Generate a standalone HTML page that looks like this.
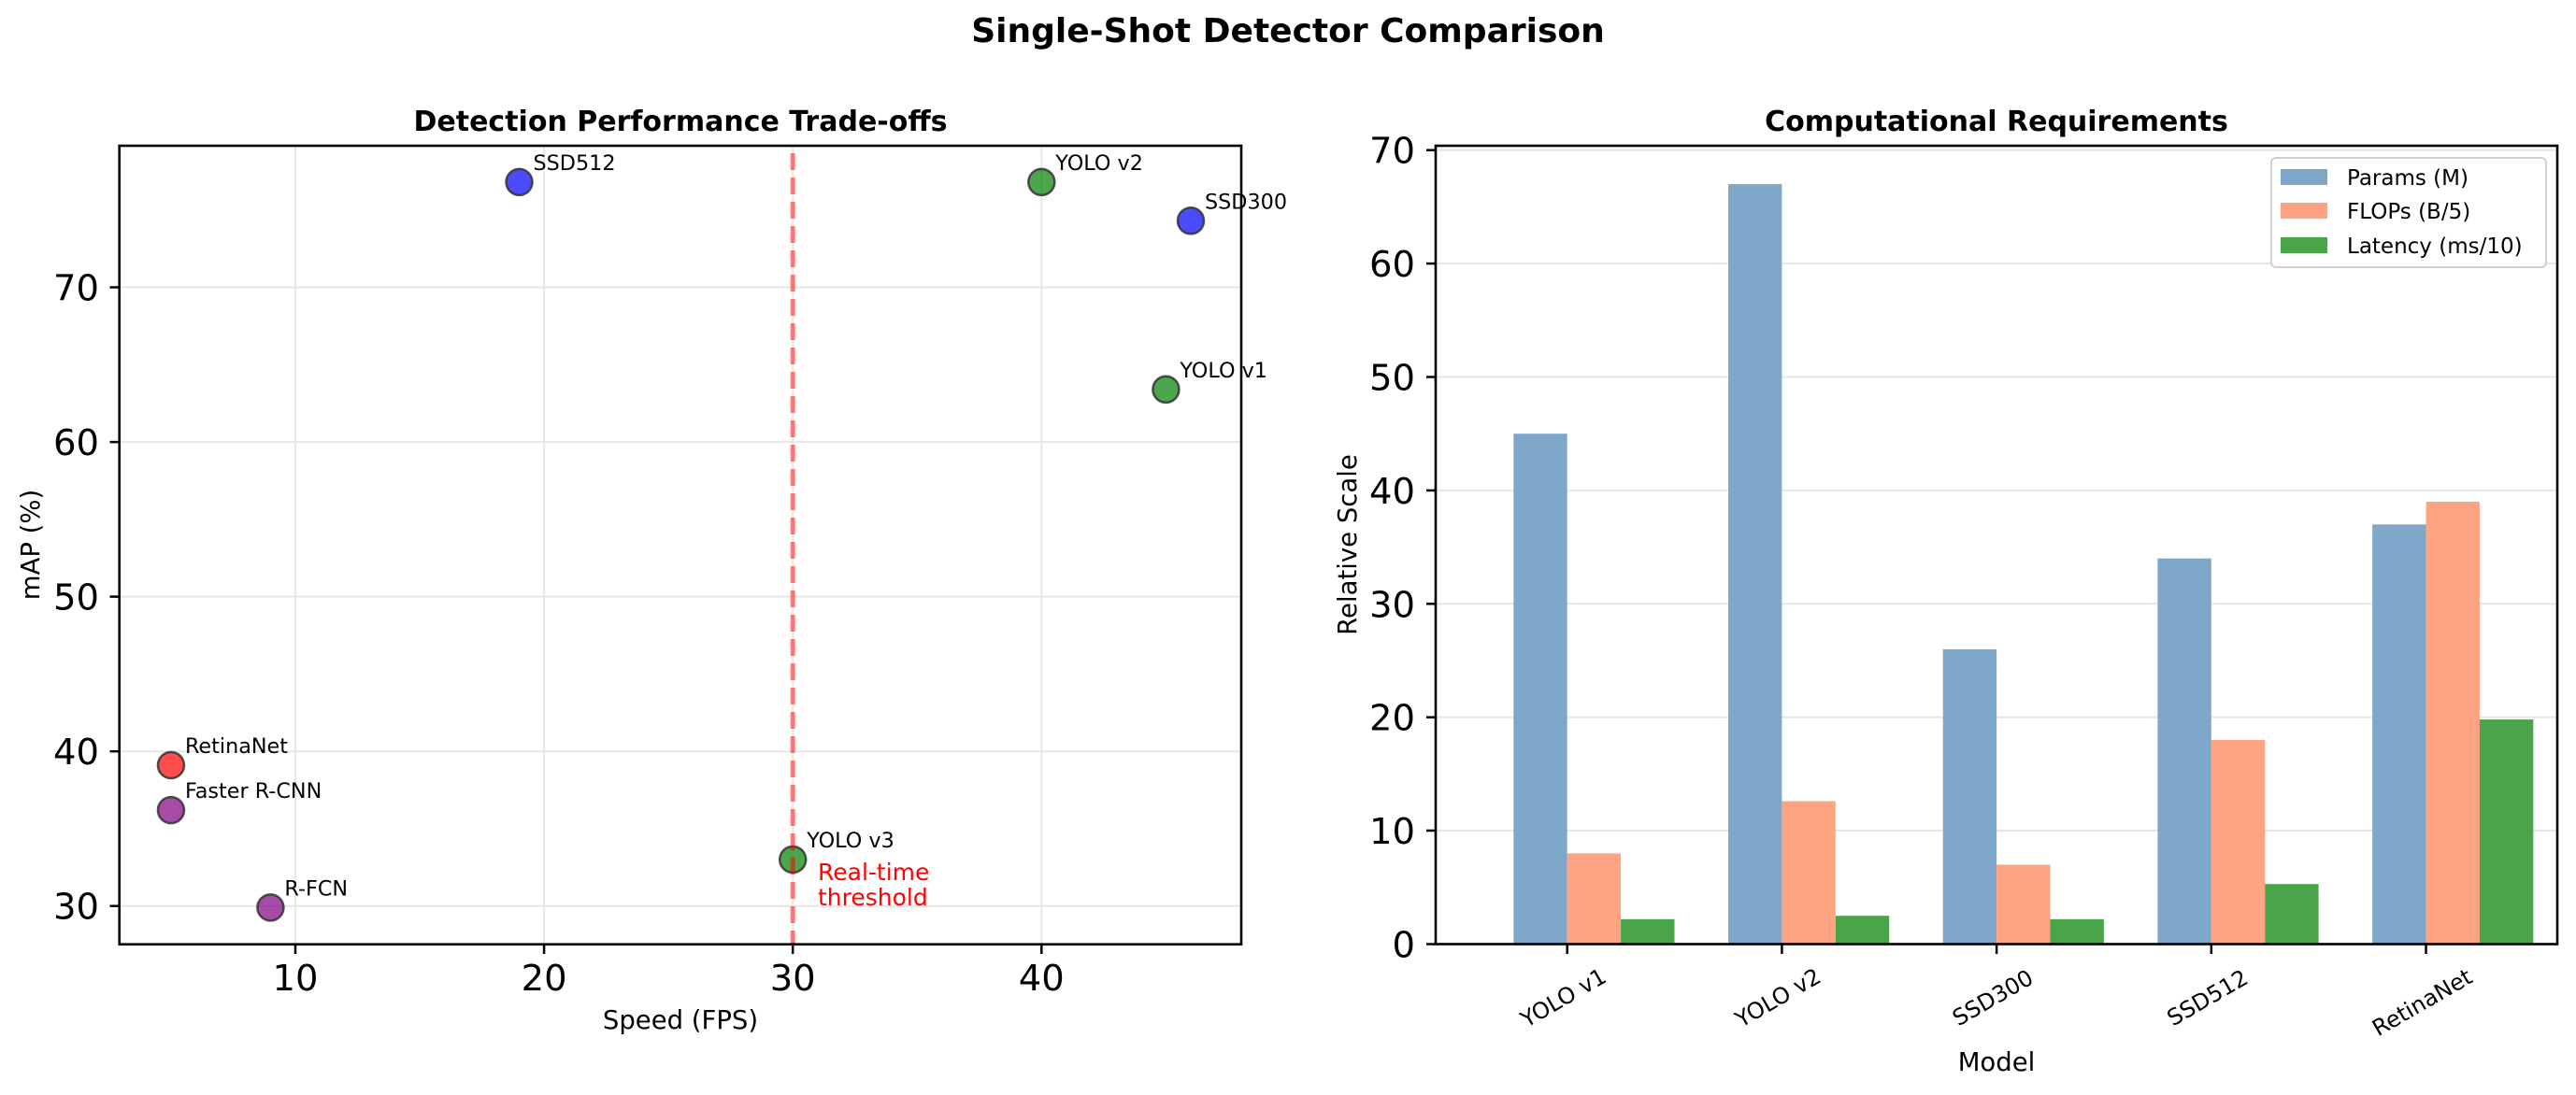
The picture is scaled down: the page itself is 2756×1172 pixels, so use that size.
<!DOCTYPE html>
<html><head><meta charset="utf-8"><style>
html,body{margin:0;padding:0;background:#fff;}
svg{display:block;font-family:"DejaVu Sans","Liberation Sans",sans-serif;}
</style></head><body>
<svg width="2756" height="1172" viewBox="0 0 2756 1172" xmlns="http://www.w3.org/2000/svg">
<rect width="2756" height="1172" fill="#fff"/>
<text x="1378" y="45" font-size="36" font-weight="bold" text-anchor="middle">Single-Shot Detector Comparison</text>

<!-- LEFT PANEL -->
<text x="728" y="140" font-size="30" font-weight="bold" text-anchor="middle">Detection Performance Trade-offs</text>
<g stroke="#e6e6e6" stroke-width="2">
<line x1="316" y1="156" x2="316" y2="1010.7"/>
<line x1="582.1" y1="156" x2="582.1" y2="1010.7"/>
<line x1="848.2" y1="156" x2="848.2" y2="1010.7"/>
<line x1="1114.3" y1="156" x2="1114.3" y2="1010.7"/>
<line x1="127.7" y1="969.7" x2="1328" y2="969.7"/>
<line x1="127.7" y1="804.2" x2="1328" y2="804.2"/>
<line x1="127.7" y1="638.6" x2="1328" y2="638.6"/>
<line x1="127.7" y1="473.1" x2="1328" y2="473.1"/>
<line x1="127.7" y1="307.5" x2="1328" y2="307.5"/>
</g>
<g stroke="#333" stroke-opacity="0.85" stroke-width="2.5">
<circle cx="555.5" cy="194.9" r="14" fill="#0000ff" fill-opacity="0.7"/>
<circle cx="1114.3" cy="194.9" r="14" fill="#008000" fill-opacity="0.7"/>
<circle cx="1274" cy="236.3" r="14" fill="#0000ff" fill-opacity="0.7"/>
<circle cx="1247.4" cy="416.8" r="14" fill="#008000" fill-opacity="0.7"/>
<circle cx="182.95" cy="819" r="14" fill="#ff0000" fill-opacity="0.7"/>
<circle cx="182.95" cy="867.1" r="14" fill="#800080" fill-opacity="0.7"/>
<circle cx="289.4" cy="971.4" r="14" fill="#800080" fill-opacity="0.7"/>
<circle cx="848.2" cy="920" r="14" fill="#008000" fill-opacity="0.7"/>
</g>
<line x1="848.2" y1="164" x2="848.2" y2="1010.7" stroke="#ff0000" stroke-opacity="0.5" stroke-width="5" stroke-dasharray="18,8"/>
<g font-size="22.3">
<text x="570.5" y="182">SSD512</text>
<text x="1129.3" y="182">YOLO v2</text>
<text x="1289" y="223.3">SSD300</text>
<text x="1262.4" y="403.8">YOLO v1</text>
<text x="197.95" y="806">RetinaNet</text>
<text x="197.95" y="854.1">Faster R-CNN</text>
<text x="304.4" y="958.4">R-FCN</text>
<text x="863.2" y="907">YOLO v3</text>
</g>
<text x="875" y="942" font-size="25" fill="#ff0000">Real-time</text>
<text x="875" y="969" font-size="25" fill="#ff0000">threshold</text>
<rect x="127.7" y="156" width="1200.3" height="854.7" fill="none" stroke="#000" stroke-width="2.6"/>
<g stroke="#000" stroke-width="2.5">
<line x1="316" y1="1010.7" x2="316" y2="1021"/>
<line x1="582.1" y1="1010.7" x2="582.1" y2="1021"/>
<line x1="848.2" y1="1010.7" x2="848.2" y2="1021"/>
<line x1="1114.3" y1="1010.7" x2="1114.3" y2="1021"/>
<line x1="117.5" y1="969.7" x2="127.7" y2="969.7"/>
<line x1="117.5" y1="804.2" x2="127.7" y2="804.2"/>
<line x1="117.5" y1="638.6" x2="127.7" y2="638.6"/>
<line x1="117.5" y1="473.1" x2="127.7" y2="473.1"/>
<line x1="117.5" y1="307.5" x2="127.7" y2="307.5"/>
</g>
<g font-size="38.5" text-anchor="middle">
<text x="316" y="1060">10</text>
<text x="582.1" y="1060">20</text>
<text x="848.2" y="1060">30</text>
<text x="1114.3" y="1060">40</text>
</g>
<g font-size="38.5" text-anchor="end">
<text x="106" y="983.7">30</text>
<text x="106" y="818.2">40</text>
<text x="106" y="652.6">50</text>
<text x="106" y="487.1">60</text>
<text x="106" y="321.5">70</text>
</g>
<text x="728" y="1101" font-size="27.5" text-anchor="middle">Speed (FPS)</text>
<text transform="translate(42,583) rotate(-90)" font-size="27.5" text-anchor="middle">mAP (%)</text>

<!-- RIGHT PANEL -->
<text x="2136" y="140" font-size="30" font-weight="bold" text-anchor="middle">Computational Requirements</text>
<g stroke="#e6e6e6" stroke-width="2">
<line x1="1536" y1="889" x2="2736" y2="889"/>
<line x1="1536" y1="767.7" x2="2736" y2="767.7"/>
<line x1="1536" y1="646.3" x2="2736" y2="646.3"/>
<line x1="1536" y1="524.9" x2="2736" y2="524.9"/>
<line x1="1536" y1="403.5" x2="2736" y2="403.5"/>
<line x1="1536" y1="282.1" x2="2736" y2="282.1"/>
<line x1="1536" y1="160.7" x2="2736" y2="160.7"/>
</g>
<g>
<rect x="1619.3" y="464.2" width="57.4" height="546.3" fill="#7ea7c9"/>
<rect x="1676.7" y="913.4" width="57.4" height="97.1" fill="#ffa483"/>
<rect x="1734.1" y="983.8" width="57.4" height="26.7" fill="#4aa54a"/>

<rect x="1849" y="197.1" width="57.4" height="813.4" fill="#7ea7c9"/>
<rect x="1906.4" y="857.5" width="57.4" height="153" fill="#ffa483"/>
<rect x="1963.8" y="980.2" width="57.4" height="30.3" fill="#4aa54a"/>

<rect x="2078.7" y="694.9" width="57.4" height="315.6" fill="#7ea7c9"/>
<rect x="2136.1" y="925.5" width="57.4" height="85" fill="#ffa483"/>
<rect x="2193.5" y="983.8" width="57.4" height="26.7" fill="#4aa54a"/>

<rect x="2308.4" y="597.7" width="57.4" height="412.8" fill="#7ea7c9"/>
<rect x="2365.8" y="792" width="57.4" height="218.5" fill="#ffa483"/>
<rect x="2423.2" y="946.2" width="57.4" height="64.3" fill="#4aa54a"/>

<rect x="2538.1" y="561.3" width="57.4" height="449.2" fill="#7ea7c9"/>
<rect x="2595.5" y="537" width="57.4" height="473.5" fill="#ffa483"/>
<rect x="2652.9" y="770.1" width="57.4" height="240.4" fill="#4aa54a"/>
</g>
<rect x="1536" y="156" width="1200" height="854.5" fill="none" stroke="#000" stroke-width="2.6"/>
<g stroke="#000" stroke-width="2.5">
<line x1="1676.7" y1="1010.5" x2="1676.7" y2="1021"/>
<line x1="1906.4" y1="1010.5" x2="1906.4" y2="1021"/>
<line x1="2136.1" y1="1010.5" x2="2136.1" y2="1021"/>
<line x1="2365.8" y1="1010.5" x2="2365.8" y2="1021"/>
<line x1="2595.5" y1="1010.5" x2="2595.5" y2="1021"/>
<line x1="1526" y1="1010.5" x2="1536" y2="1010.5"/>
<line x1="1526" y1="889" x2="1536" y2="889"/>
<line x1="1526" y1="767.7" x2="1536" y2="767.7"/>
<line x1="1526" y1="646.3" x2="1536" y2="646.3"/>
<line x1="1526" y1="524.9" x2="1536" y2="524.9"/>
<line x1="1526" y1="403.5" x2="1536" y2="403.5"/>
<line x1="1526" y1="282.1" x2="1536" y2="282.1"/>
<line x1="1526" y1="160.7" x2="1536" y2="160.7"/>
</g>
<g font-size="38.5" text-anchor="end">
<text x="1514" y="1024.5">0</text>
<text x="1514" y="903">10</text>
<text x="1514" y="781.7">20</text>
<text x="1514" y="660.3">30</text>
<text x="1514" y="538.9">40</text>
<text x="1514" y="417.5">50</text>
<text x="1514" y="296.1">60</text>
<text x="1514" y="174.7">70</text>
</g>
<g font-size="24" text-anchor="middle">
<text transform="translate(1676.7,1075) rotate(-30)">YOLO v1</text>
<text transform="translate(1906.4,1075) rotate(-30)">YOLO v2</text>
<text transform="translate(2136.1,1075) rotate(-30)">SSD300</text>
<text transform="translate(2365.8,1075) rotate(-30)">SSD512</text>
<text transform="translate(2595.5,1080) rotate(-30)">RetinaNet</text>
</g>
<text x="2136" y="1146" font-size="27.5" text-anchor="middle">Model</text>
<text transform="translate(1451,583) rotate(-90)" font-size="27.5" text-anchor="middle">Relative Scale</text>

<!-- legend -->
<rect x="2430" y="169" width="294" height="117" rx="5" fill="#fff" fill-opacity="0.8" stroke="#d0d0d0" stroke-width="2"/>
<rect x="2440" y="181" width="50" height="17" fill="#7ea7c9"/>
<rect x="2440" y="217" width="50" height="17" fill="#ffa483"/>
<rect x="2440" y="254" width="50" height="17" fill="#4aa54a"/>
<g font-size="23">
<text x="2511" y="198">Params (M)</text>
<text x="2511" y="234">FLOPs (B/5)</text>
<text x="2511" y="271">Latency (ms/10)</text>
</g>
</svg>
</body></html>
